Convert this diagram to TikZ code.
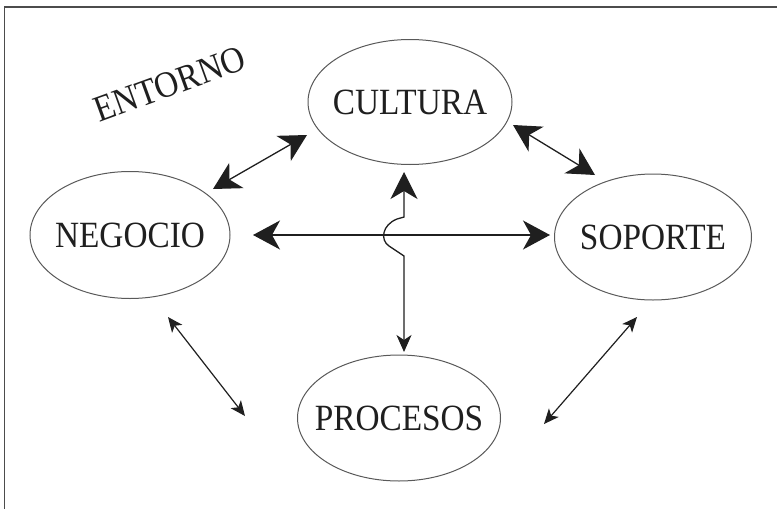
\documentclass[tikz,border=0pt]{standalone}
\usepackage{fontspec}
\setmainfont{Liberation Serif}
\newfontfamily\condserif[FakeStretch=0.9]{Liberation Serif}
\usetikzlibrary{shapes.geometric,arrows.meta}
\newcommand{\ztext}[1]{\makebox[0pt]{#1}}
\begin{document}
\begin{tikzpicture}[x=1pt,y=-1pt,
  blob/.style={ellipse,draw=black!65,line width=1pt,inner sep=0pt,text=black!88,
    font=\condserif\fontsize{37}{40}\selectfont},
  bigarr/.style={draw=black!88,line width=1.3pt,
    arrows={Stealth[length=27pt,width=29pt,inset=8pt]-Stealth[length=27pt,width=29pt,inset=8pt]}},
  smallarr/.style={draw=black!88,line width=1.2pt,
    arrows={Stealth[length=15pt,width=13pt,inset=4pt]-Stealth[length=15pt,width=13pt,inset=4pt]}}]
\useasboundingbox (0,0) rectangle (777,509);
\draw[black!70,line width=1.5pt] (4.5,509) -- (4.5,7) -- (777,7);
\node[blob,minimum width=204pt,minimum height=125pt] (cul) at (410,102) {\ztext{CULTURA}};
\node[blob,minimum width=200pt,minimum height=127pt] (neg) at (130,235) {\ztext{NEGOCIO}};
\node[blob,minimum width=197pt,minimum height=126pt] (sop) at (653,237) {\ztext{SOPORTE}};
\node[blob,minimum width=203pt,minimum height=126pt] (pro) at (399,418) {\ztext{PROCESOS}};
\node[text=black!88,font=\condserif\fontsize{37}{40}\selectfont,rotate=20] (ent) at (170,84) {ENTORNO};
% free ends
\coordinate (a1) at (213,189); \coordinate (a2) at (307,135);
\coordinate (b1) at (513,125); \coordinate (b2) at (595,175);
\coordinate (h1) at (253,235); \coordinate (h2) at (550,235);
\coordinate (v1) at (404,172); \coordinate (v2) at (404,352);
\coordinate (c1) at (168,317); \coordinate (c2) at (245,416);
\coordinate (d1) at (637,317); \coordinate (d2) at (544,424);
\draw[bigarr] (a1) -- (a2);
\draw[bigarr] (b1) -- (b2);
\draw[bigarr] (h1) -- (h2);
\draw[draw=black!88,line width=1.3pt,
  arrows={Stealth[length=27pt,width=27pt,inset=8pt]-Stealth[length=17pt,width=15pt,inset=5pt]}]
  (v1) -- (404,217) -- (397,219) .. controls (382,225) and (380,240) .. (389,246) -- (404,256) -- (v2);
\draw[smallarr] (c1) -- (c2);
\draw[smallarr] (d1) -- (d2);
\end{tikzpicture}
\end{document}
